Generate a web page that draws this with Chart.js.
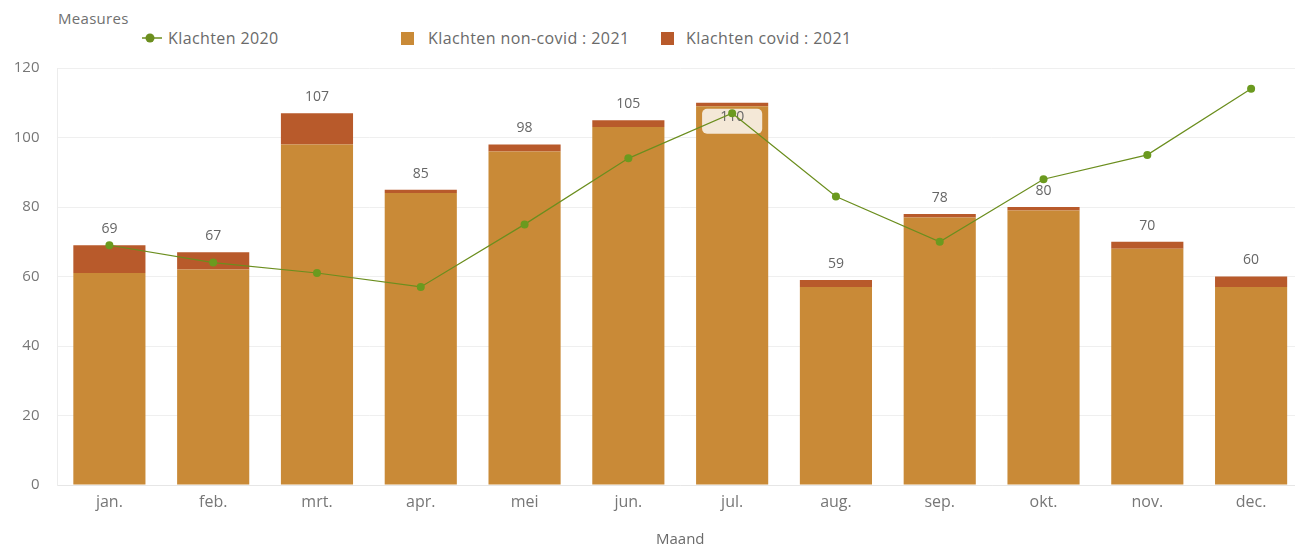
<!DOCTYPE html>
<html>
<head>
<meta charset="utf-8">
<script src="https://cdn.jsdelivr.net/npm/chart.js@4.4.1/dist/chart.umd.min.js"></script>
<style>
  html, body { margin: 0; padding: 0; background: #fff; overflow: hidden; }
  body { width: 1295px; height: 549px; position: relative; font-family: "Open Sans", "Noto Sans", sans-serif; }
  #wrap { position: absolute; left: 0; top: 0; width: 1310px; height: 549px; }
  .lg { position: absolute; font-size: 16px; color: #6a6a6a; white-space: nowrap; line-height: 18px; letter-spacing: 0.4px; }
  .sw { position: absolute; width: 13px; height: 13px; }
</style>
</head>
<body>
<div class="lg" style="left:58px; top:9px; font-size:15px; letter-spacing:0.3px; color:#707070;">Measures</div>
<svg style="position:absolute; left:141px; top:31px;" width="22" height="14">
  <line x1="1" y1="7" x2="21" y2="7" stroke="#6b8e1e" stroke-width="1.5"/>
  <circle cx="9" cy="7" r="4.5" fill="#6b8e1e"/>
</svg>
<div class="lg" style="left:168px; top:29px;">Klachten 2020</div>
<div class="sw" style="left:401px; top:32px; background:#c98a37;"></div>
<div class="lg" style="left:428px; top:29px;">Klachten non-covid : 2021</div>
<div class="sw" style="left:661px; top:32px; background:#b85a2b;"></div>
<div class="lg" style="left:686px; top:29px;">Klachten covid : 2021</div>

<div id="wrap"><canvas id="c" width="1310" height="549"></canvas></div>

<script>
// Monthly complaints
const months = ["jan.", "feb.", "mrt.", "apr.", "mei", "jun.", "jul.", "aug.", "sep.", "okt.", "nov.", "dec."];
const klachten2020 = [69, 64, 61, 57, 75, 94, 107, 83, 70, 88, 95, 114];
const nonCovid2021 = [61, 62, 98, 84, 96, 103, 109, 57, 77, 79, 68, 57];
const covid2021 = [8, 5, 9, 1, 2, 2, 1, 2, 1, 1, 2, 3];
const yTicks = [0, 20, 40, 60, 80, 100, 120];

const totals2021 = nonCovid2021.map((v, i) => v + covid2021[i]);

const FONT = '"Open Sans", "Noto Sans", sans-serif';

// Total labels for the stacked 2021 bars, drawn under the 2020 line
const totalLabels = {
  id: 'totalLabels',
  beforeDatasetDraw(chart, args) {
    if (args.index !== 0) return;
    const ctx = chart.ctx;
    const yScale = chart.scales.y;
    const top = chart.chartArea.top;
    const meta = chart.getDatasetMeta(2);
    ctx.save();
    ctx.font = '14px ' + FONT;
    ctx.textAlign = 'center';
    ctx.textBaseline = 'middle';
    totals2021.forEach((t, i) => {
      const bar = meta.data[i];
      const yTop = yScale.getPixelForValue(t);
      const text = String(t);
      if (yTop - 24 < top + 12) {
        // not enough room above the bar: place inside with a light background
        const w = bar.width - 12;
        const bx = bar.x - w / 2;
        const by = yTop + 6;
        ctx.fillStyle = 'rgba(255,255,255,0.8)';
        ctx.beginPath();
        ctx.roundRect(bx, by, w, 25, 5);
        ctx.fill();
        ctx.fillStyle = '#666';
        ctx.fillText(text, bar.x, by + 8);
      } else {
        ctx.fillStyle = '#666';
        ctx.fillText(text, bar.x, yTop - 16);
      }
    });
    ctx.restore();
  }
};

new Chart(document.getElementById('c'), {
  data: {
    labels: months,
    datasets: [
      {
        type: 'line',
        label: 'Klachten 2020',
        data: klachten2020,
        stack: 'line2020',
        order: 0,
        borderColor: '#6b8e1e',
        borderWidth: 1.2,
        backgroundColor: '#6b9a1f',
        pointBackgroundColor: '#6b9a1f',
        pointBorderColor: '#6b9a1f',
        pointRadius: 4,
        pointBorderWidth: 0,
        tension: 0
      },
      {
        type: 'bar',
        label: 'Klachten non-covid : 2021',
        data: nonCovid2021,
        stack: 'y2021',
        order: 1,
        backgroundColor: '#c98a37',
        categoryPercentage: 1,
        barPercentage: 0.695
      },
      {
        type: 'bar',
        label: 'Klachten covid : 2021',
        data: covid2021,
        stack: 'y2021',
        order: 1,
        backgroundColor: '#b85a2b',
        categoryPercentage: 1,
        barPercentage: 0.695
      }
    ]
  },
  options: {
    responsive: false,
    animation: false,
    events: [],
    layout: { padding: { top: 68, left: 0, right: 7, bottom: 0 } },
    plugins: {
      legend: { display: false },
      tooltip: { enabled: false }
    },
    scales: {
      x: {
        stacked: true,
        grid: { display: false, drawTicks: false },
        border: { display: true, color: '#e6e6e6' },
        ticks: { color: '#777', font: { family: FONT, size: 16 }, padding: 8 },
        title: {
          display: true, text: 'Maand', color: '#6a6a6a',
          font: { family: FONT, size: 15 }, padding: { top: 0, bottom: 0 }
        },
        afterFit(scale) { scale.height = 64; }
      },
      y: {
        stacked: true,
        min: 0,
        max: 120,
        afterBuildTicks(scale) { scale.ticks = yTicks.map(v => ({ value: v })); },
        grid: { color: '#efefef', drawTicks: false },
        border: { display: true, color: '#ececec' },
        ticks: { color: '#777', font: { family: FONT, size: 15 }, padding: 18 },
        afterFit(scale) { scale.width = 57.5; }
      }
    }
  },
  plugins: [totalLabels]
});
</script>
</body>
</html>
